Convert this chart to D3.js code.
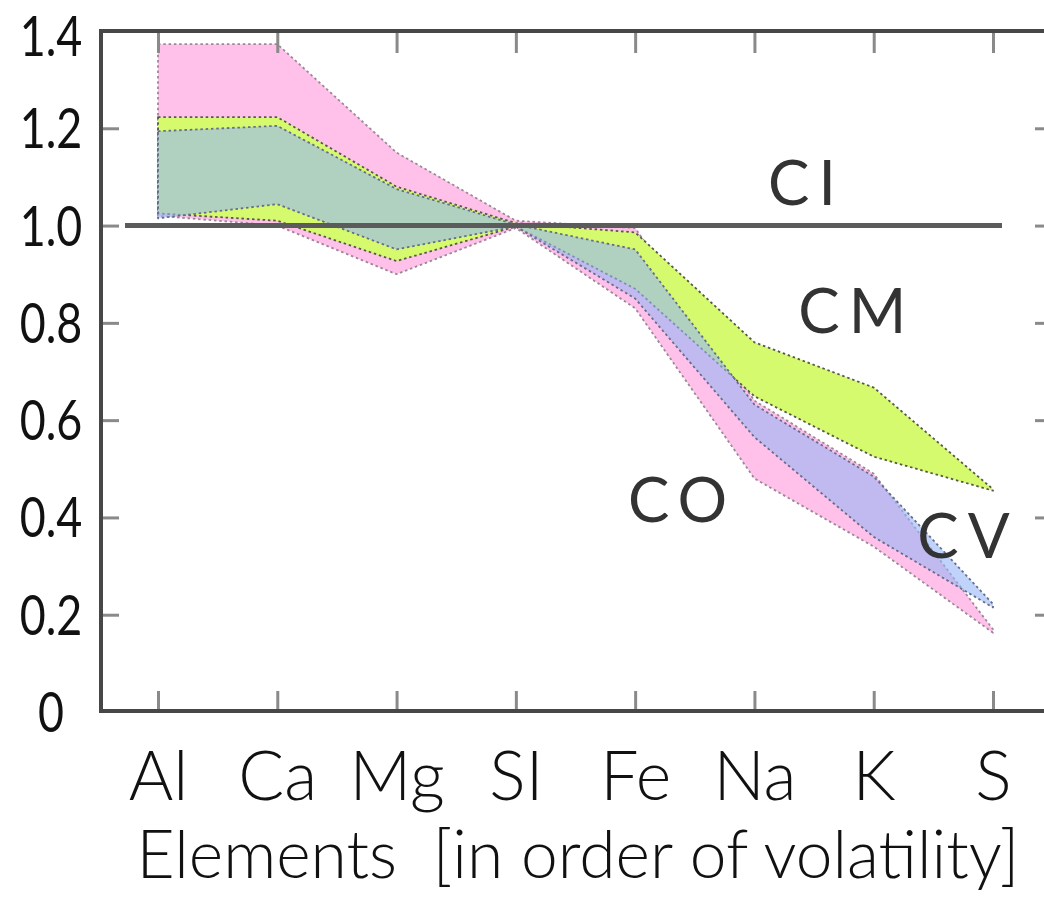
<!DOCTYPE html>
<html>
<head>
<meta charset="utf-8">
<script src="https://cdn.jsdelivr.net/npm/d3@7"></script>
<style>
  html, body { margin: 0; padding: 0; background: #fff; }
  svg { display: block; }
  text { white-space: pre; }
</style>
</head>
<body>
<svg id="chart" width="1044" height="899"></svg>
<script>
// Elements, ordered from refractory to volatile
const elements = ["Al", "Ca", "Mg", "SI", "Fe", "Na", "K", "S"];
const yTicks = [0, 0.2, 0.4, 0.6, 0.8, 1.0, 1.2, 1.4];
const yTickLabels = ["0", "0.2", "0.4", "0.6", "0.8", "1.0", "1.2", "1.4"];

// Abundance ranges normalised to Si and CI (lower / upper bound per element)
const coLow  = [1.02, 1.00, 0.90, 0.995, 0.83, 0.48, 0.34, 0.163];
const coHigh = [1.373, 1.373, 1.15, 1.01, 0.995, 0.64, 0.49, 0.17];
const cmLow  = [1.025, 1.01, 0.927, 0.998, 0.87, 0.649, 0.525, 0.455];
const cmHigh = [1.223, 1.223, 1.08, 1.005, 0.986, 0.76, 0.667, 0.458];
const cvLow  = [1.015, 1.044, 0.951, 0.998, 0.85, 0.565, 0.36, 0.215];
const cvHigh = [1.194, 1.205, 1.075, 1.002, 0.951, 0.632, 0.484, 0.222];
const ciLevel = 1.0;

const groupNames = ["CO", "CM", "CV", "CI"];
const xTitle = "Elements  [in order of volatility]";

// Frame of the plot
const frame = { left: 101, right: 1053, top: 31, bottom: 711 };
const labelFont = "Lato, 'Open Sans', sans-serif";

const svg = d3.select("#chart");

const x = d3.scalePoint().domain(elements).range([158, 993]);
const y = d3.scaleLinear().domain([0, 1.4]).range([712, 31]);

// Bands, drawn bottom to top: CO, CM, then the translucent CV on top
const bands = [
  { name: "CO", low: coLow, high: coHigh, fill: "#ffc1e9", opacity: 1, stroke: "#9a8896" },
  { name: "CM", low: cmLow, high: cmHigh, fill: "#d6fa6e", opacity: 1, stroke: "#55584a" },
  { name: "CV", low: cvLow, high: cvHigh, fill: "rgb(150,182,246)", opacity: 0.6, stroke: "#676d88" }
];

const area = d3.area()
  .x(d => x(d.el))
  .y0(d => y(d.lo))
  .y1(d => y(d.hi));

const bandG = svg.append("g");
bands.forEach(b => {
  const pts = elements.map((el, i) => ({ el, lo: b.low[i], hi: b.high[i] }));
  bandG.append("path")
    .datum(pts)
    .attr("d", area)
    .attr("fill", b.fill)
    .attr("fill-opacity", b.opacity)
    .attr("stroke", b.stroke)
    .attr("stroke-width", 1.8)
    .attr("stroke-dasharray", "2.5,2.8")
    .attr("stroke-linejoin", "round");
});

// CI reference level
svg.append("line")
  .attr("x1", x("Al") - 33).attr("x2", x("S") + 9)
  .attr("y1", y(ciLevel)).attr("y2", y(ciLevel))
  .attr("stroke", "#5b5b5b")
  .attr("stroke-width", 5);

// Ticks: all pointing into the plot
const tickColor = "#8a8a8a";
const innerY = yTicks.filter(v => v > 0 && v < 1.4);

const leftAxis = d3.axisLeft(y).tickValues(innerY).tickSize(-18).tickFormat("");
svg.append("g").attr("transform", `translate(${frame.left},0)`).call(leftAxis)
  .call(g => g.select(".domain").remove())
  .call(g => g.selectAll("line").attr("stroke", tickColor).attr("stroke-width", 3));

const rightAxis = d3.axisRight(y).tickValues(innerY).tickSize(-18).tickFormat("");
svg.append("g").attr("transform", `translate(${frame.right},0)`).call(rightAxis)
  .call(g => g.select(".domain").remove())
  .call(g => g.selectAll("line").attr("stroke", tickColor).attr("stroke-width", 3));

const topAxis = d3.axisTop(x).tickSize(-22).tickFormat("");
svg.append("g").attr("transform", `translate(0,${frame.top})`).call(topAxis)
  .call(g => g.select(".domain").remove())
  .call(g => g.selectAll("line").attr("stroke", tickColor).attr("stroke-width", 3));

const bottomAxis = d3.axisBottom(x).tickSize(-20);
svg.append("g").attr("transform", `translate(0,${frame.bottom})`).call(bottomAxis)
  .call(g => g.select(".domain").remove())
  .call(g => g.selectAll("line").attr("stroke", tickColor).attr("stroke-width", 3))
  .call(g => g.selectAll("text")
    .attr("y", 89)
    .attr("dy", 0)
    .attr("fill", "#111")
    .attr("font-family", labelFont)
    .attr("font-weight", 300)
    .attr("font-size", 68));

// Frame
svg.append("rect")
  .attr("x", frame.left).attr("y", frame.top)
  .attr("width", frame.right - frame.left)
  .attr("height", frame.bottom - frame.top)
  .attr("fill", "none")
  .attr("stroke", "#474747")
  .attr("stroke-width", 4);

// Y tick labels, centred in the left margin (kept inside the top edge)
svg.append("g").selectAll("text")
  .data(yTicks)
  .join("text")
  .attr("transform", d => `translate(51,${Math.max(y(d) + 20, 56)}) scale(0.8,1)`)
  .attr("text-anchor", "middle")
  .attr("fill", "#111")
  .attr("font-family", labelFont)
  .attr("font-size", 56)
  .text((d, i) => yTickLabels[i]);

// Axis title, squeezed horizontally to span the category labels
const title = svg.append("text")
  .attr("text-anchor", "middle")
  .attr("fill", "#111")
  .attr("font-family", labelFont)
  .attr("font-weight", 300)
  .attr("font-size", 68)
  .text(xTitle);
const titleWidth = title.node().getComputedTextLength();
title.attr("transform", `translate(578,878) scale(${883 / titleWidth},1)`);

// Group labels
const groupPos = {
  CI: { x: x("Na") + 52, v: 1.042 },
  CM: { x: x("K") - 17, v: 0.779 },
  CO: { x: x("Fe") + 47, v: 0.39 },
  CV: { x: x("S") - 25, v: 0.317 }
};
svg.append("g").selectAll("text")
  .data(groupNames)
  .join("text")
  .attr("x", d => groupPos[d].x)
  .attr("y", d => y(groupPos[d].v))
  .attr("text-anchor", "middle")
  .attr("fill", "#333")
  .attr("font-family", labelFont)
  .attr("font-size", 62)
  .attr("letter-spacing", 9)
  .text(d => d);
</script>
</body>
</html>
